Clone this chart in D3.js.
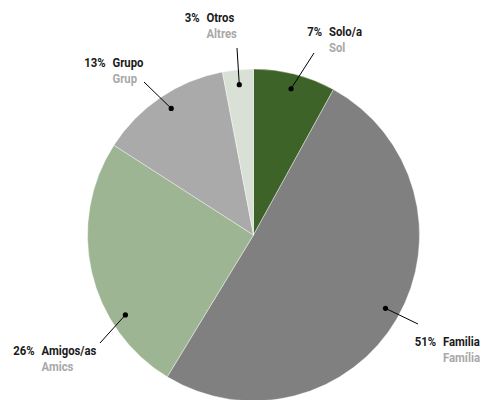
<!DOCTYPE html>
<html>
<head>
<meta charset="utf-8">
<script src="https://cdn.jsdelivr.net/npm/d3@7"></script>
<style>
  html, body { margin: 0; padding: 0; background: #fff; }
  svg { display: block; }
  text { font-family: Roboto, "Noto Sans", sans-serif; }
</style>
</head>
<body>
<svg id="chart" width="484" height="400"></svg>
<script>
// Data, clockwise from 12 o'clock
const categories = ["Solo/a", "Familia", "Amigos/as", "Grupo", "Otros"];
const subLabels  = ["Sol", "Família", "Amics", "Grup", "Altres"];
const values     = [8.0, 50.7, 25.4, 12.9, 3.0];
const pctLabels  = ["7%", "51%", "26%", "13%", "3%"];
const colors     = ["#3e6329", "#808080", "#9db592", "#aaaaaa", "#d9e0d5"];

// Layout (annotation placement)
const layout = {
  cx: 253.5, cy: 235, r: 166, dotR: 151, fontSize: 13, squeeze: 0.87, gap: 7,
  labels: [
    { dAng: 0,    nameX: 329,   y: 36,  lx: 314, ly: 53 },
    { dAng: -1,   nameX: 443,   y: 346, lx: 418, ly: 324 },
    { dAng: -19,  nameX: 41.5,  y: 355, lx: 100, ly: 343 },
    { dAng: 1,    nameX: 112.5, y: 67,  lx: 144, ly: 82 },
    { dAng: 0,    nameX: 206.5, y: 22,  lx: 237, ly: 48 }
  ]
};

const svg = d3.select("#chart");
const g = svg.append("g").attr("transform", `translate(${layout.cx},${layout.cy})`);

const pie = d3.pie().sort(null).value(d => d.value);
const arc = d3.arc().innerRadius(0).outerRadius(layout.r);

const data = categories.map((c, i) => ({ name: c, sub: subLabels[i], value: values[i], pct: pctLabels[i], color: colors[i] }));
const arcs = pie(data);

g.selectAll("path.slice").data(arcs).enter().append("path")
  .attr("class", "slice")
  .attr("d", arc)
  .attr("fill", d => d.data.color)
  .attr("stroke", "#fff")
  .attr("stroke-width", 0.4);

function addText(parent, x, y, str, fill, anchor) {
  parent.append("text")
    .attr("transform", `translate(${x},${y}) scale(${layout.squeeze},1)`)
    .attr("text-anchor", anchor || "start")
    .attr("font-size", layout.fontSize).attr("font-weight", 700)
    .attr("fill", fill)
    .text(str);
}

const lab = svg.append("g");
arcs.forEach((a, i) => {
  const L = layout.labels[i];
  const ang = (a.startAngle + a.endAngle) / 2 + L.dAng * Math.PI / 180;
  const dx = layout.cx + layout.dotR * Math.sin(ang);
  const dy = layout.cy - layout.dotR * Math.cos(ang);
  lab.append("line")
    .attr("x1", dx).attr("y1", dy).attr("x2", L.lx).attr("y2", L.ly)
    .attr("stroke", "#000").attr("stroke-width", 1);
  lab.append("circle").attr("cx", dx).attr("cy", dy).attr("r", 2.6).attr("fill", "#000");

  addText(lab, L.nameX - layout.gap, L.y, a.data.pct, "#1a1a1a", "end");
  addText(lab, L.nameX, L.y, a.data.name, "#1a1a1a");
  addText(lab, L.nameX, L.y + 15.5, a.data.sub, "#a8a8a8");
});
</script>
</body>
</html>
